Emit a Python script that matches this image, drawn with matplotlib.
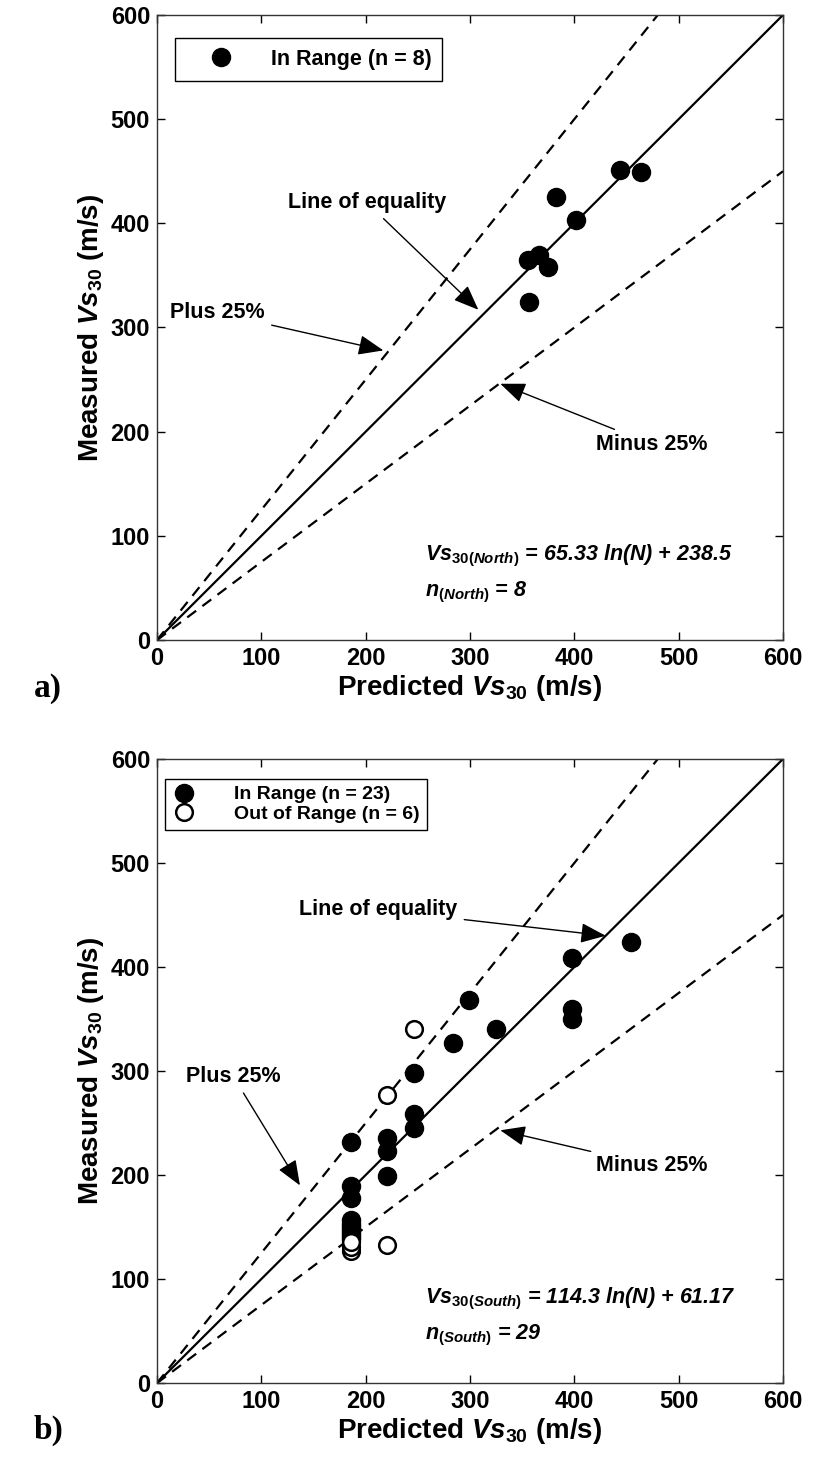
import matplotlib
matplotlib.use('Agg')
import matplotlib.pyplot as plt
import numpy as np

# ---- data ----
north_pred = [444, 464, 382, 402, 356, 366, 375, 357]
north_meas = [451, 449, 425, 403, 365, 370, 358, 324]

south_in_pred = [186, 186, 186, 186, 186, 186, 186, 186, 186, 186,
                 220, 220, 220, 246, 246, 246, 284, 299, 325, 398, 398, 398, 454]
south_in_meas = [232, 189, 178, 157, 153, 150, 147, 144, 141, 138,
                 236, 223, 199, 298, 259, 245, 327, 368, 340, 409, 360, 350, 424]
south_out_pred = [186, 186, 186, 220, 220, 246]
south_out_meas = [127, 131, 136, 133, 277, 340]

ticks = [0, 100, 200, 300, 400, 500, 600]

plt.rcParams['font.family'] = ['Liberation Sans', 'DejaVu Sans']
plt.rcParams['font.weight'] = 'bold'
plt.rcParams['mathtext.fontset'] = 'custom'
plt.rcParams['mathtext.rm'] = 'Liberation Sans:bold'
plt.rcParams['mathtext.it'] = 'Liberation Sans:italic:bold'
plt.rcParams['mathtext.bf'] = 'Liberation Sans:bold'

fig = plt.figure(figsize=(8.19, 14.64), dpi=100)
ax_top = fig.add_axes([0.1917, 0.5628, 0.7644, 0.4270])
ax_bot = fig.add_axes([0.1917, 0.0553, 0.7644, 0.4263])

arrow = dict(arrowstyle='-|>,head_length=1.0,head_width=0.4', color='k', lw=1.0,
             shrinkA=3, shrinkB=0)
txt_size = 15.5


def draw_panel(ax, region, n_text, eq_text, annots):
    x = np.array([0, 600])
    ax.plot(x, x, color='k', lw=1.6, zorder=2)
    ax.plot(x, 1.25 * x, color='k', lw=1.6, ls=(0, (5, 3.5)), zorder=2)
    ax.plot(x, 0.75 * x, color='k', lw=1.6, ls=(0, (5, 3.5)), zorder=2)

    ax.set_xlim(0, 600)
    ax.set_ylim(0, 600)
    ax.set_xticks(ticks)
    ax.set_yticks(ticks)
    ax.tick_params(direction='in', top=True, right=True, length=6, width=1,
                   labelsize=17, pad=5)
    for lab in ax.get_xticklabels() + ax.get_yticklabels():
        lab.set_fontweight('bold')
    for sp in ax.spines.values():
        sp.set_linewidth(1.0)
        sp.set_color('#333333')

    ax.set_xlabel(r'Predicted $\mathit{Vs}_{\mathit{30}}$ (m/s)', fontsize=20,
                  fontweight='bold', labelpad=2)
    ax.set_ylabel(r'Measured $\mathit{Vs}_{\mathit{30}}$ (m/s)', fontsize=20,
                  fontweight='bold', labelpad=3)

    for text, xy, xytext in annots:
        ax.annotate(text, xy=xy, xytext=xytext, ha='center', va='center',
                    arrowprops=arrow, fontsize=txt_size, fontweight='bold')

    ax.text(257, 81, r'$\mathit{Vs}_{\mathit{30(' + region + r')}}$' + eq_text,
            fontsize=txt_size, fontweight='bold', fontstyle='italic', va='center')
    ax.text(257, 46, r'$\mathit{n}_{\mathit{(' + region + r')}}$' + n_text,
            fontsize=txt_size, fontweight='bold', fontstyle='italic', va='center')


draw_panel(ax_top, 'North', ' = 8', ' = 65.33 ln(N) + 238.5',
           [('Line of equality', (308, 317), (201, 420)),
            ('Plus 25%', (217, 278), (58, 314)),
            ('Minus 25%', (329, 246), (474, 188))])
ax_top.plot(north_pred, north_meas, 'o', color='k', ms=13, zorder=3,
            label='In Range (n = 8)')
ax_top.legend(loc='upper left', bbox_to_anchor=(0.029, 0.963), borderaxespad=0,
              fancybox=False, edgecolor='k', framealpha=1, handlelength=3.3,
              handletextpad=0.65, borderpad=0.5,
              prop=dict(size=txt_size, weight='bold'))

draw_panel(ax_bot, 'South', ' = 29', ' = 114.3 ln(N) + 61.17',
           [('Line of equality', (430, 430), (212, 455)),
            ('Plus 25%', (137, 190), (73, 295)),
            ('Minus 25%', (329, 243), (474, 209))])
ax_bot.plot(south_in_pred, south_in_meas, 'o', color='k', ms=13, zorder=3,
            label='In Range (n = 23)')
ax_bot.plot(south_out_pred, south_out_meas, 'o', mfc='white', mec='k', mew=1.8,
            ms=12, zorder=3, label='Out of Range (n = 6)')
ax_bot.legend(loc='upper left', bbox_to_anchor=(0.013, 0.968), borderaxespad=0,
              fancybox=False, edgecolor='k', framealpha=1, handlelength=1.2,
              handletextpad=2.0, borderpad=0.35, labelspacing=0.1,
              prop=dict(size=14, weight='bold'))

fig.text(0.059, 0.530, 'a)', fontsize=24, fontweight='bold',
         family=['Liberation Serif', 'DejaVu Serif'], ha='center', va='center')
fig.text(0.059, 0.023, 'b)', fontsize=24, fontweight='bold',
         family=['Liberation Serif', 'DejaVu Serif'], ha='center', va='center')

fig.savefig('out.png', dpi=100)
